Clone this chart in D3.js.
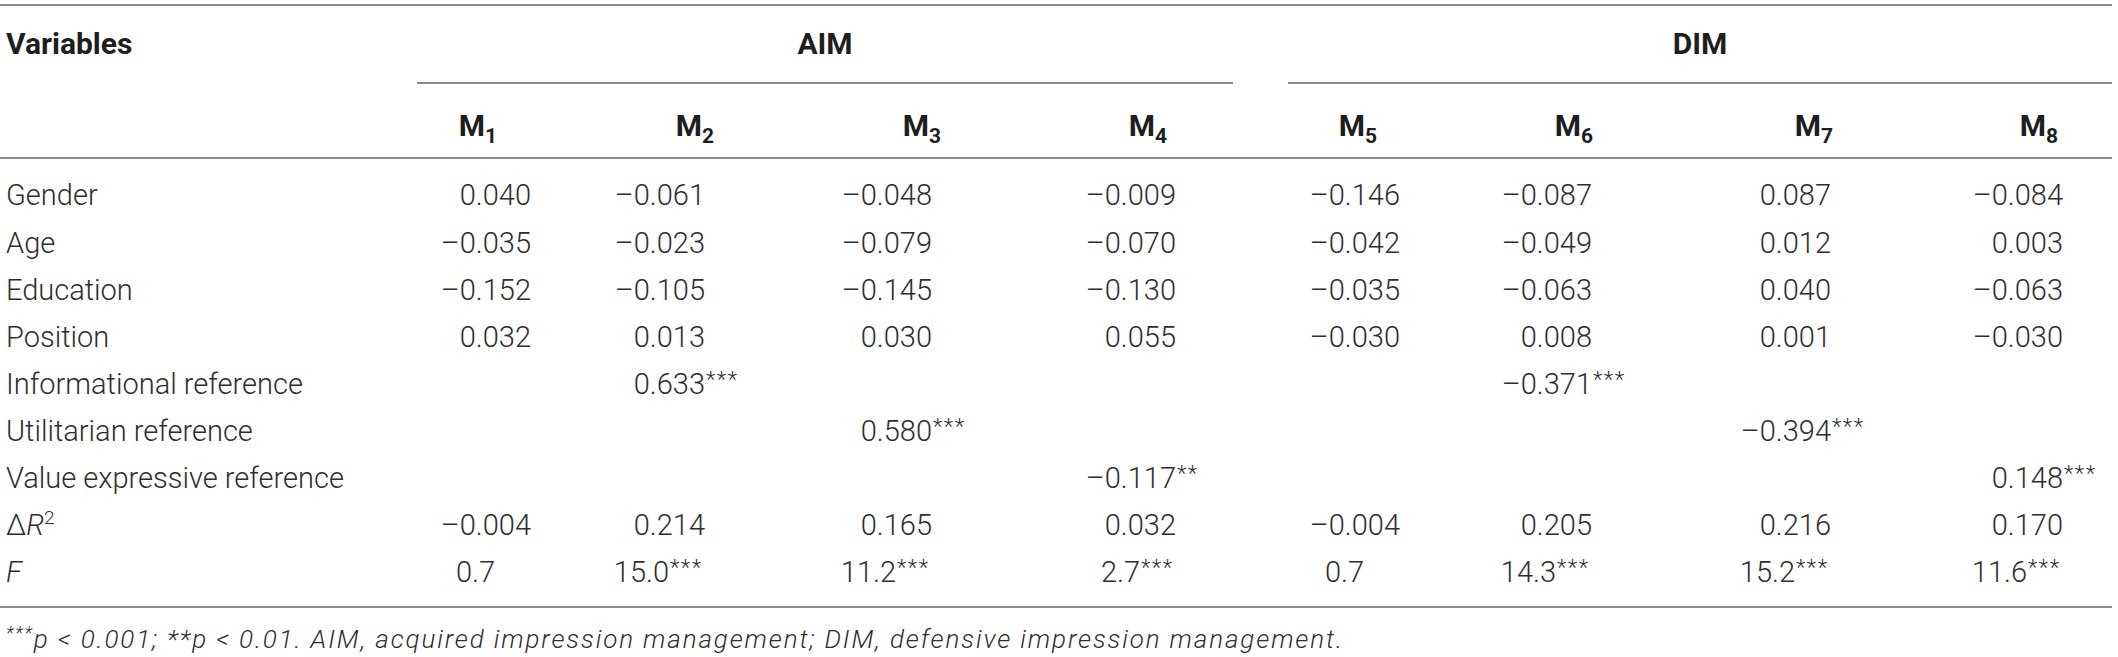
<!DOCTYPE html>
<html>
<head>
<meta charset="utf-8">
<script src="https://cdn.jsdelivr.net/npm/d3@7"></script>
<style>
body { margin: 0; background: #fff; }
svg text { font-family: Roboto, "Liberation Sans", sans-serif; }
</style>
</head>
<body>
<div id="table"></div>
<script>
// rows, models and groups of the regression table
var rowLabels = ["Gender", "Age", "Education", "Position", "Informational reference",
    "Utilitarian reference", "Value expressive reference", "dR2", "F"];
var models = ["M1", "M2", "M3", "M4", "M5", "M6", "M7", "M8"];
var groups = ["AIM", "DIM"];

// coefficients per model (null = empty cell), last value is F
var m1 = [0.040, -0.035, -0.152, 0.032, null, null, null, -0.004, 0.7];
var m2 = [-0.061, -0.023, -0.105, 0.013, 0.633, null, null, 0.214, 15.0];
var m3 = [-0.048, -0.079, -0.145, 0.030, null, 0.580, null, 0.165, 11.2];
var m4 = [-0.009, -0.070, -0.130, 0.055, null, null, -0.117, 0.032, 2.7];
var m5 = [-0.146, -0.042, -0.035, -0.030, null, null, null, -0.004, 0.7];
var m6 = [-0.087, -0.049, -0.063, 0.008, -0.371, null, null, 0.205, 14.3];
var m7 = [0.087, 0.012, 0.040, 0.001, null, -0.394, null, 0.216, 15.2];
var m8 = [-0.084, 0.003, -0.063, -0.030, null, null, 0.148, 0.170, 11.6];

// significance marks
var s1 = ["", "", "", "", "", "", "", "", ""];
var s2 = ["", "", "", "", "***", "", "", "", "***"];
var s3 = ["", "", "", "", "", "***", "", "", "***"];
var s4 = ["", "", "", "", "", "", "**", "", "***"];
var s5 = ["", "", "", "", "", "", "", "", ""];
var s6 = ["", "", "", "", "***", "", "", "", "***"];
var s7 = ["", "", "", "", "", "***", "", "", "***"];
var s8 = ["", "", "", "", "", "", "***", "", "***"];

var footnote = "p < 0.001; **p < 0.01. AIM, acquired impression management; DIM, defensive impression management.";

var values = [m1, m2, m3, m4, m5, m6, m7, m8];
var stars = [s1, s2, s3, s4, s5, s6, s7, s8];

var W = 2118, H = 657;
var ruleColor = "#8a8a8a";
var textColor = "#2e2e2e";
var fs = 29;          // body font size
var fShift = 36;      // F row numbers leave room for the stars

var x = d3.scaleOrdinal().domain(models).range([531, 705, 932, 1176, 1400, 1592, 1831, 2063]);
var hx = d3.scaleOrdinal().domain(models).range([478, 695, 922, 1148, 1358, 1574, 1814, 2039]);
var y = d3.scalePoint().domain(rowLabels).range([195, 572]);
var span = d3.scaleOrdinal().domain(groups).range([[417, 1233], [1288, 2112]]);

function fmt(v, row) {
    var s = row == "F" ? d3.format(".1f")(Math.abs(v)) : d3.format(".3f")(Math.abs(v));
    return (v < 0 ? "\u2013" : "") + s;
}

function cellX(d) {
    return d.row == "F" ? x(d.model) - fShift : x(d.model);
}

var cells = [];
models.forEach(function (m, i) {
    rowLabels.forEach(function (r, j) {
        if (values[i][j] != null) cells.push({model: m, row: r, value: values[i][j], star: stars[i][j]});
    });
});

var svg = d3.select("#table").append("svg")
    .attr("width", W)
    .attr("height", H);

// rules
var rules = [[0, 2112, 5], [0, 2112, 158], [0, 2112, 607]];
groups.forEach(function (g) { rules.push([span(g)[0], span(g)[1], 83]); });
svg.selectAll(".rule")
    .data(rules)
    .enter().append("line")
    .attr("class", "rule")
    .attr("x1", function (d) { return d[0]; })
    .attr("x2", function (d) { return d[1]; })
    .attr("y1", function (d) { return d[2]; })
    .attr("y2", function (d) { return d[2]; })
    .attr("stroke", ruleColor)
    .attr("stroke-width", 2);

// header
svg.append("text")
    .attr("x", 6).attr("y", 43).attr("dy", "0.36em")
    .attr("font-size", 30).attr("font-weight", "bold").attr("fill", "#1e1e1e")
    .text("Variables");

svg.selectAll(".group")
    .data(groups)
    .enter().append("text")
    .attr("class", "group")
    .attr("x", function (d) { return (span(d)[0] + span(d)[1]) / 2; })
    .attr("y", 43).attr("dy", "0.36em")
    .attr("text-anchor", "middle")
    .attr("font-size", 30).attr("font-weight", "bold").attr("fill", "#1e1e1e")
    .text(function (d) { return d; });

var mh = svg.selectAll(".mhead")
    .data(models)
    .enter().append("text")
    .attr("class", "mhead")
    .attr("x", function (d) { return hx(d); })
    .attr("y", 125).attr("dy", "0.36em")
    .attr("text-anchor", "middle")
    .attr("font-size", 30).attr("font-weight", "bold").attr("fill", "#1e1e1e");
mh.append("tspan").text("M");
mh.append("tspan").attr("font-size", 21).attr("dy", 7).text(function (d) { return d.slice(1); });

// row labels
var rl = svg.selectAll(".rowlabel")
    .data(rowLabels)
    .enter().append("text")
    .attr("class", "rowlabel")
    .attr("x", 6)
    .attr("y", function (d) { return y(d); })
    .attr("dy", "0.36em")
    .attr("font-size", fs).attr("font-weight", 300).attr("fill", textColor);
rl.each(function (d) {
    var t = d3.select(this);
    if (d == "dR2") {
        t.append("tspan").text("\u0394");
        t.append("tspan").attr("font-style", "italic").text("R");
        t.append("tspan").attr("font-size", 19).attr("dy", -11).text("2");
    } else if (d == "F") {
        t.append("tspan").attr("font-style", "italic").text("F");
    } else {
        t.text(d);
    }
});

// cells: number right aligned, stars hang to the right of it
svg.selectAll(".num")
    .data(cells)
    .enter().append("text")
    .attr("class", "num")
    .attr("x", cellX)
    .attr("y", function (d) { return y(d.row); })
    .attr("dy", "0.36em")
    .attr("text-anchor", "end")
    .attr("font-size", fs).attr("font-weight", 300).attr("fill", textColor)
    .text(function (d) { return fmt(d.value, d.row); });

svg.selectAll(".star")
    .data(cells.filter(function (d) { return d.star; }))
    .enter().append("text")
    .attr("class", "star")
    .attr("x", function (d) { return cellX(d) + 1; })
    .attr("y", function (d) { return y(d.row) + 0.36 * fs - 7; })
    .attr("font-size", 22).attr("font-weight", 300).attr("letter-spacing", 1.5)
    .attr("fill", textColor)
    .text(function (d) { return d.star; });

// footnote
var fn = svg.append("text")
    .attr("x", 6).attr("y", 648)
    .attr("font-size", 26).attr("font-style", "italic").attr("font-weight", 300).attr("fill", textColor)
    .attr("textLength", 1336).attr("lengthAdjust", "spacing");
fn.append("tspan").attr("font-size", 18).attr("dy", -9).text("***");
fn.append("tspan").attr("dy", 9).text(footnote);
</script>
</body>
</html>
